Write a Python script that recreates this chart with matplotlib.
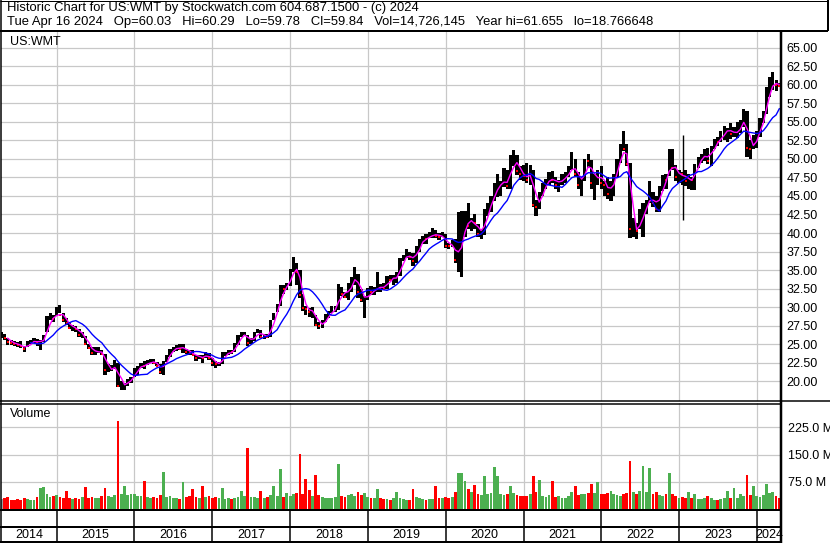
import numpy as np
import pandas as pd
import matplotlib
matplotlib.use('Agg')
import matplotlib.pyplot as plt

plt.rcParams['font.family'] = ['Liberation Sans', 'DejaVu Sans']
plt.rcParams['font.size'] = 9

# half-monthly bars (1st and 16th), Apr 16 2014 .. Apr 16 2024, US$ (split adjusted)
dates = pd.date_range('2014-04-16', periods=241, freq='SMS-16')

hi = ([26.6, 26.4, 25.8, 25.6, 25.4, 25.3, 25.4, 24.7, 25.4, 25.6, 25.8, 25.7, 25.6, 26.3, 28.8, 29.2, 29.0]
      + [30.0, 30.3, 29.2, 28.5, 28.0, 27.6, 27.5, 27.0, 26.6, 26.1, 25.0, 24.6, 24.6, 24.6, 24.2, 23.7, 22.3, 22.2, 22.9, 22.4, 20.0, 19.8, 20.3, 20.6]
      + [21.8, 22.0, 22.5, 22.8, 22.9, 23.0, 23.0, 22.6, 22.3, 22.7, 23.6, 24.3, 24.6, 24.9, 25.0, 25.0, 24.3, 24.2, 24.2, 23.6, 23.6, 23.6, 24.0, 23.8]
      + [23.2, 22.7, 22.6, 24.0, 24.0, 24.2, 24.2, 25.1, 26.3, 26.6, 26.6, 26.3, 25.8, 26.7, 27.0, 26.9, 26.4, 26.4, 28.3, 29.2, 30.4, 33.0, 33.0, 33.2]
      + [35.2, 36.7, 36.0, 35.0, 31.8, 30.2, 29.9, 30.0, 29.0, 28.0, 28.3, 29.1, 29.5, 30.1, 30.2, 33.1, 32.7, 32.0, 33.3, 34.0, 35.4, 34.5, 32.5, 31.5]
      + [32.6, 32.8, 32.7, 34.8, 33.1, 33.2, 34.2, 34.3, 34.4, 34.7, 36.6, 37.0, 37.8, 37.5, 37.3, 38.3, 39.2, 39.6, 39.8, 40.2, 40.7, 40.4, 40.0, 40.1]
      + [39.9, 38.7, 39.0, 39.2, 42.9, 43.0, 43.0, 44.0, 42.0, 42.5, 41.2, 40.5, 43.3, 44.0, 45.0, 46.8, 48.0, 47.0, 48.8, 48.5, 50.5, 51.2, 50.5, 49.0]
      + [49.2, 49.5, 49.2, 48.5, 44.5, 45.5, 46.8, 47.3, 48.2, 48.3, 47.5, 47.2, 48.0, 48.2, 49.0, 50.9, 50.0, 48.2, 47.5, 50.0, 50.7, 49.8, 48.0, 48.5]
      + [49.0, 47.0, 47.5, 47.0, 48.0, 50.0, 52.0, 53.8, 52.0, 49.5, 42.0, 41.3, 43.3, 44.0, 44.5, 47.0, 45.5, 45.0, 46.3, 47.8, 48.0, 51.3, 51.3, 49.2]
      + [48.5, 48.2, 48.5, 48.0, 47.5, 49.3, 50.3, 50.7, 51.3, 51.5, 51.8, 52.7, 53.0, 53.8, 54.5, 54.2, 54.8, 54.3, 55.0, 55.3, 56.7, 56.5, 52.5, 53.2]
      + [53.7, 55.5, 56.5, 59.7, 61.0, 61.7, 60.7, 60.3])

lo = ([25.9, 25.6, 24.9, 24.9, 24.7, 24.6, 24.5, 23.9, 24.6, 25.0, 25.2, 24.8, 24.2, 25.3, 26.6, 28.2, 28.0]
      + [28.8, 29.2, 28.0, 27.6, 27.0, 26.8, 26.7, 26.0, 25.8, 24.9, 24.3, 23.6, 23.6, 23.8, 23.5, 20.8, 21.3, 21.4, 21.6, 19.2, 18.8, 18.8, 19.4, 19.8]
      + [20.6, 20.8, 21.8, 21.7, 22.2, 22.5, 22.3, 22.0, 21.0, 20.9, 22.6, 23.3, 24.0, 24.1, 24.2, 23.8, 23.7, 23.5, 23.5, 22.8, 23.0, 22.5, 23.1, 22.9]
      + [22.0, 21.8, 22.0, 22.3, 23.4, 23.6, 23.7, 24.0, 24.9, 26.0, 26.2, 24.8, 25.0, 25.4, 26.5, 25.8, 25.7, 25.8, 26.0, 28.3, 29.3, 30.2, 31.8, 32.3]
      + [32.9, 34.8, 33.0, 31.2, 29.5, 28.9, 28.7, 28.6, 27.5, 27.0, 27.2, 28.0, 28.5, 29.2, 29.4, 29.6, 31.5, 31.2, 31.0, 32.0, 33.0, 31.3, 30.7, 28.6]
      + [31.0, 31.7, 31.7, 32.0, 32.0, 32.4, 32.5, 33.6, 33.0, 33.3, 34.2, 36.2, 36.6, 36.3, 35.6, 36.0, 37.5, 38.5, 38.5, 39.3, 39.3, 39.3, 39.1, 39.4]
      + [38.0, 37.9, 38.1, 36.0, 34.7, 34.0, 39.5, 40.6, 40.3, 40.5, 39.5, 39.2, 39.7, 42.3, 42.8, 44.3, 44.8, 45.0, 46.2, 46.0, 46.0, 49.0, 47.8, 47.2]
      + [47.0, 46.7, 46.5, 43.5, 42.3, 43.3, 45.0, 46.0, 46.5, 46.7, 46.0, 45.5, 46.5, 46.8, 47.5, 48.5, 47.7, 46.0, 45.0, 47.0, 48.8, 46.0, 44.5, 46.5]
      + [46.0, 45.0, 44.6, 44.3, 45.0, 47.5, 49.5, 51.0, 49.0, 39.3, 39.5, 39.2, 40.5, 39.5, 42.5, 44.0, 43.5, 42.8, 42.8, 45.7, 46.0, 47.7, 48.5, 47.0]
      + [46.8, 46.5, 46.3, 46.0, 45.8, 45.8, 48.8, 49.5, 49.7, 49.3, 49.0, 51.3, 51.8, 52.3, 52.5, 52.3, 52.7, 53.0, 52.8, 53.5, 54.3, 50.3, 50.0, 51.3]
      + [51.5, 53.0, 54.8, 56.0, 58.3, 59.3, 59.2, 59.8])

cl = ([26.3, 25.8, 25.3, 25.2, 25.0, 24.9, 24.7, 24.3, 25.2, 25.3, 25.6, 25.1, 25.4, 26.0, 28.5, 28.6, 28.4]
      + [29.6, 29.0, 28.3, 27.9, 27.2, 27.3, 27.0, 26.2, 26.3, 25.0, 24.5, 23.8, 24.0, 24.1, 23.7, 21.5, 21.6, 21.7, 22.3, 19.4, 19.5, 19.7, 20.1, 20.4]
      + [21.6, 21.9, 22.3, 22.0, 22.6, 22.8, 22.4, 22.1, 21.3, 22.6, 23.5, 24.2, 24.4, 24.6, 24.4, 24.6, 23.9, 23.8, 23.6, 23.2, 23.3, 23.1, 23.8, 23.1]
      + [22.5, 22.3, 22.4, 23.5, 23.7, 24.0, 23.9, 24.9, 26.1, 26.2, 26.4, 25.2, 25.4, 26.6, 26.7, 26.0, 26.1, 26.0, 28.1, 29.1, 30.3, 32.8, 32.4, 32.9]
      + [35.0, 35.5, 34.8, 31.7, 29.9, 29.7, 29.3, 29.5, 27.6, 27.4, 28.1, 28.5, 29.4, 29.7, 29.8, 32.6, 31.8, 31.4, 33.1, 33.3, 34.7, 32.0, 31.0, 31.1]
      + [32.1, 32.0, 32.5, 32.9, 32.6, 32.5, 34.0, 33.7, 34.0, 34.1, 36.4, 36.8, 37.0, 36.8, 36.2, 38.1, 38.9, 39.3, 39.2, 39.7, 40.0, 39.6, 39.5, 39.6]
      + [38.3, 38.2, 38.6, 36.3, 37.5, 40.3, 42.5, 41.0, 41.5, 41.3, 39.8, 39.9, 43.0, 43.2, 44.6, 46.3, 46.5, 46.6, 47.5, 46.4, 50.0, 50.2, 48.3, 48.0]
      + [47.7, 47.1, 48.5, 43.8, 43.5, 45.2, 46.4, 47.0, 47.5, 47.2, 46.5, 47.0, 47.5, 47.6, 48.5, 49.5, 48.0, 46.5, 47.3, 49.8, 49.7, 46.7, 47.5, 48.2]
      + [46.7, 46.5, 45.2, 46.5, 47.8, 49.7, 51.5, 51.3, 49.3, 40.5, 40.6, 40.3, 42.0, 43.7, 44.0, 45.3, 44.0, 43.3, 46.0, 47.5, 47.2, 50.3, 48.8, 47.5]
      + [48.0, 47.9, 47.0, 47.2, 47.1, 49.2, 49.9, 50.3, 50.8, 49.7, 51.6, 52.4, 52.3, 53.2, 54.0, 54.1, 53.3, 53.4, 54.0, 54.5, 56.3, 51.5, 51.4, 52.5]
      + [53.2, 55.1, 56.2, 58.9, 60.2, 60.3, 60.0, 59.8])

# volume, millions of shares
vol = ([28, 30, 34, 26, 24, 27, 25, 30, 28, 24, 26, 33, 58, 60, 40, 32, 36]
       + [38, 34, 30, 49, 31, 28, 30, 27, 33, 60, 30, 32, 29, 31, 35, 58, 36, 33, 38, 243, 40, 62, 38, 42]
       + [40, 36, 35, 78, 33, 30, 32, 30, 38, 101, 34, 36, 30, 31, 28, 75, 33, 35, 54, 34, 30, 63, 33, 36]
       + [30, 32, 29, 58, 28, 30, 27, 29, 34, 50, 36, 168, 32, 33, 30, 50, 29, 33, 38, 64, 36, 110, 34, 45]
       + [36, 40, 44, 152, 42, 82, 52, 36, 93, 38, 34, 31, 30, 29, 32, 124, 36, 33, 38, 40, 36, 47, 38, 44]
       + [33, 30, 31, 55, 29, 28, 27, 26, 30, 47, 31, 27, 25, 26, 54, 32, 29, 28, 26, 27, 28, 63, 29, 31]
       + [33, 31, 34, 48, 100, 99, 78, 55, 48, 66, 42, 38, 90, 40, 44, 116, 92, 42, 38, 40, 63, 44, 38, 36]
       + [35, 37, 40, 91, 48, 79, 36, 33, 38, 76, 34, 36, 31, 30, 37, 47, 63, 38, 40, 42, 45, 70, 44, 75]
       + [42, 40, 44, 49, 40, 38, 36, 42, 45, 131, 48, 42, 50, 119, 46, 112, 40, 47, 38, 36, 40, 99, 42, 36]
       + [30, 32, 29, 47, 30, 40, 28, 27, 30, 35, 29, 26, 25, 27, 30, 49, 30, 57, 31, 41, 36, 93, 38, 63]
       + [36, 34, 38, 70, 45, 46, 36, 30])

# one bad print in Jan 2023
spike_date = pd.to_datetime(['2023-01-20'])
spike_hi = [53.2]
spike_lo = [41.8]

years = list(range(2014, 2025))
price_ticks = np.arange(20, 65.01, 2.5)
vol_ticks = [75, 150, 225]

header1 = 'Historic Chart for US:WMT by Stockwatch.com 604.687.1500 - (c) 2024'
header2 = ('Tue Apr 16 2024   Op=60.03   Hi=60.29   Lo=59.78   Cl=59.84   '
           'Vol=14,726,145   Year hi=61.655   lo=18.766648')

hi = np.array(hi); lo = np.array(lo); cl = np.array(cl); vol = np.array(vol)
chg = np.diff(cl, prepend=cl[0])
down = chg < 0
vcol = np.where(chg < 0, '#ff0000', np.where(chg > 0, '#4caf50', '#a0a0a0'))
ma_fast = pd.Series(cl).rolling(3).mean()
ma_slow = pd.Series(cl).rolling(10).mean()

W, H = 830, 543
PX = 0.72  # one pixel in points


def rect(x0, y0, x1, y1):
    return [x0 / W, 1 - y1 / H, (x1 - x0) / W, (y1 - y0) / H]


fig = plt.figure(figsize=(W / 100, H / 100), dpi=100)
xlim = (pd.Timestamp('2014-04-14 10:00'), pd.Timestamp('2024-04-24'))
year_starts = pd.to_datetime(['%d-01-01' % y for y in years[1:]])

# price panel
ax = fig.add_axes(rect(1, 31, 781, 401))
ax.bar(dates, hi - lo, bottom=lo, width=15, color='black', linewidth=0, zorder=2)
ax.vlines(spike_date, spike_lo, spike_hi, color='black', lw=1.0, zorder=2)
ax.plot(dates[down], cl[down], 's', ms=1.6, mew=0, color='red', zorder=3)
ax.plot(dates, ma_fast, color='#ff00ff', lw=1.0, zorder=4)
ax.plot(dates, ma_slow, color='#0000ff', lw=1.0, zorder=4)
ax.set_xlim(xlim)
ax.set_ylim(17.34, 67.25)
ax.set_yticks(price_ticks)
ax.set_xticks(year_starts)
ax.yaxis.set_major_formatter(plt.FormatStrFormatter('%.2f'))
ax.tick_params(length=0, labelbottom=False, labelleft=False, labelright=True,
               pad=4, labelsize=9)
ax.grid(True, color='#c8c8c8', lw=0.9, zorder=0)
ax.set_axisbelow(True)
for s in ax.spines.values():
    s.set_visible(False)
ax.text(0.011, 0.97, 'US:WMT', transform=ax.transAxes, va='center', ha='left', fontsize=9)

# volume panel
axv = fig.add_axes(rect(1, 403, 781, 509))
axv.bar(dates, vol, width=13, color=vcol, linewidth=0, zorder=2)
axv.set_xlim(xlim)
axv.set_ylim(0, 292)
axv.set_yticks(vol_ticks)
axv.set_yticklabels(['%.1f M' % v for v in vol_ticks])
axv.set_xticks(year_starts)
axv.tick_params(length=0, labelbottom=False, labelleft=False, labelright=True,
                pad=5, labelsize=9)
axv.grid(True, color='#c8c8c8', lw=0.9, zorder=0)
axv.set_axisbelow(True)
for s in axv.spines.values():
    s.set_visible(False)
axv.text(0.011, 0.9, 'Volume', transform=axv.transAxes, va='center', ha='left', fontsize=9)

# year strip
axt = fig.add_axes(rect(1, 510, 781, 542))
axt.set_xlim(xlim)
axt.set_ylim(0, 32)
axt.axis('off')
for d in year_starts:
    axt.axvline(d, color='black', lw=1.5 * PX)
for y in years:
    a = max(pd.Timestamp('%d-01-01' % y), xlim[0])
    b = min(pd.Timestamp('%d-01-01' % (y + 1)), xlim[1])
    axt.text(a + (b - a) / 2, 7, str(y), ha='center', va='center', fontsize=9)

# frame lines in pixel space
fr = fig.add_axes([0, 0, 1, 1])
fr.set_xlim(0, W)
fr.set_ylim(H, 0)
fr.axis('off')
fr.patch.set_alpha(0)
k = dict(color='black', solid_capstyle='butt')
fr.plot([0, 828], [0.5, 0.5], lw=1 * PX, **k)
fr.plot([0.5, 0.5], [0, 543], lw=1.5 * PX, **k)
fr.plot([827.5, 827.5], [0, 31], lw=2 * PX, **k)
fr.plot([0, 828], [30.5, 30.5], lw=2 * PX, **k)
fr.plot([0, 830], [401, 401], lw=1.5 * PX, **k)
fr.plot([0, 781], [403.5, 403.5], lw=1.5 * PX, **k)
fr.plot([0, 781], [509.8, 509.8], lw=2 * PX, **k)
fr.plot([0, 781], [526.8, 526.8], lw=2 * PX, **k)
fr.plot([0, 781], [541.8, 541.8], lw=2 * PX, **k)
fr.plot([781.3, 781.3], [31, 542.5], lw=2.5 * PX, **k)
fr.text(6.5, 8, header1, fontsize=9.4, va='center', ha='left')
fr.text(6.5, 22, header2, fontsize=9.4, va='center', ha='left')

fig.savefig('out.png', dpi=100)
